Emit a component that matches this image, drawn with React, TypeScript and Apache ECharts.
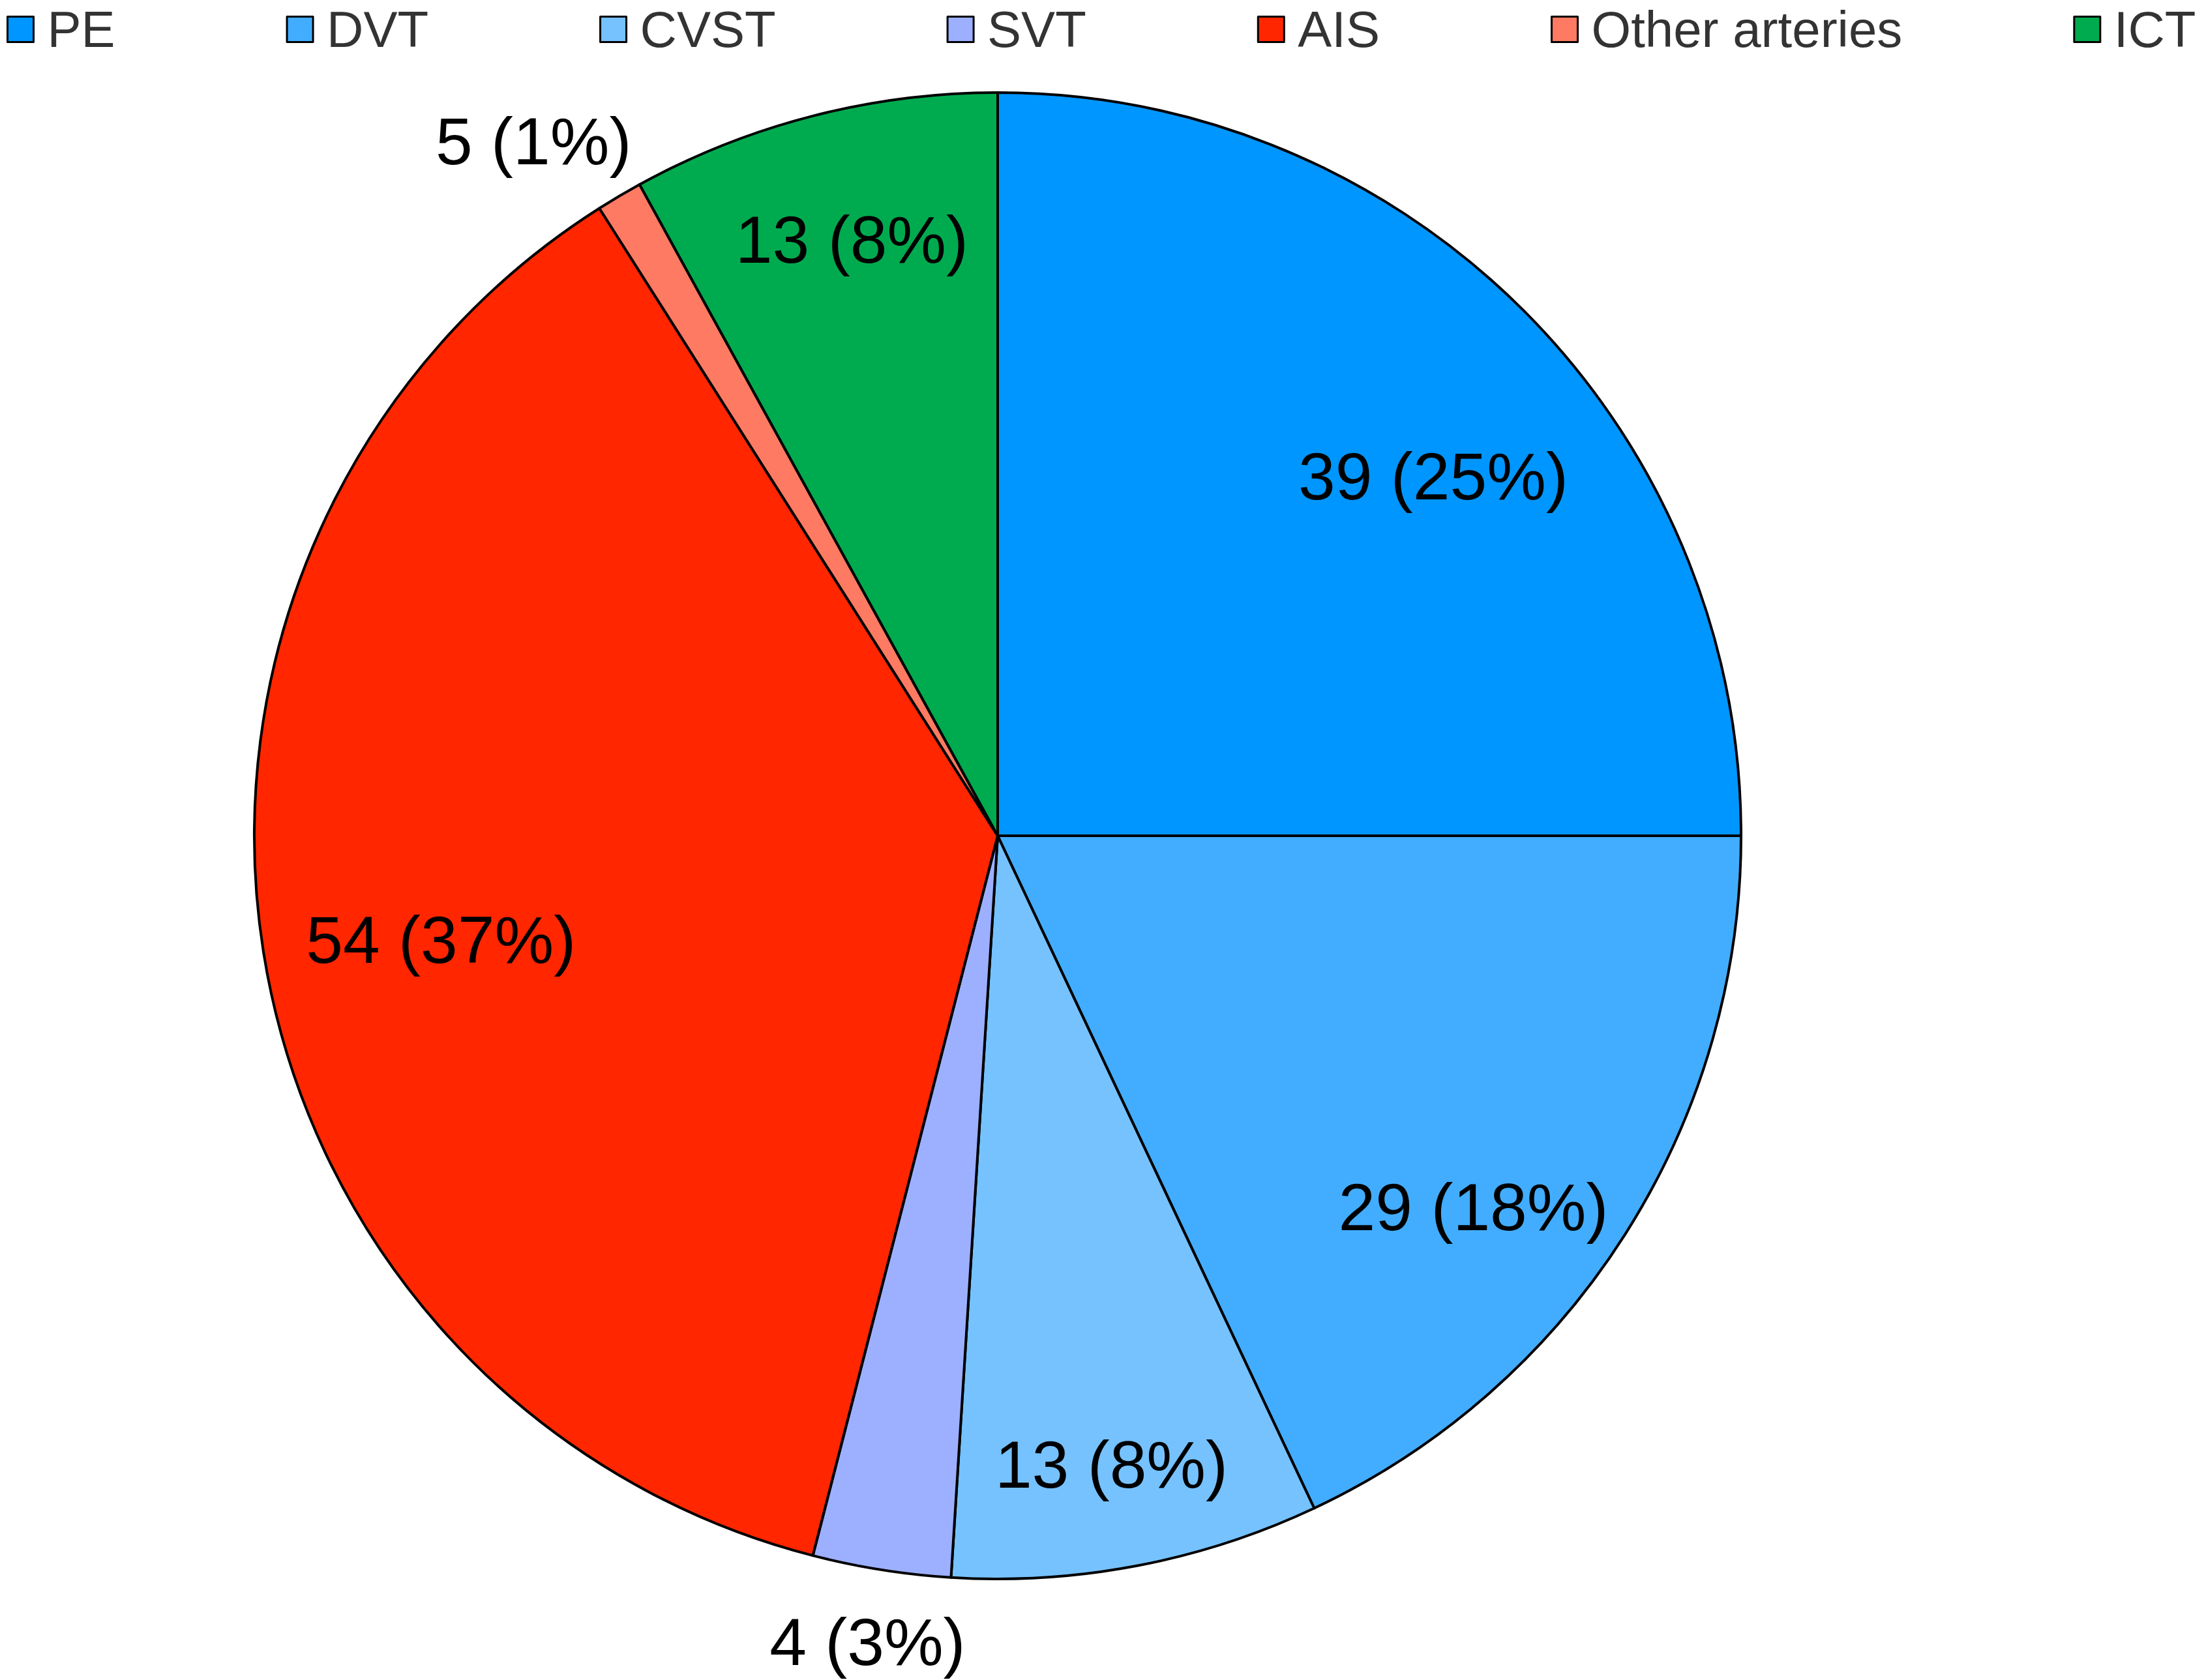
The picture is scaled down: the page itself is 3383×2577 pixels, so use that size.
import React, { useEffect, useRef } from "react";
import * as echarts from "echarts";

// ---- data ----
const categories: string[] = ["PE", "DVT", "CVST", "SVT", "AIS", "Other arteries", "ICT"];
const counts: number[] = [39, 29, 13, 4, 54, 5, 13];
const percents: number[] = [25, 18, 8, 3, 37, 1, 8];
const sliceColors: string[] = ["#0096FF", "#42ADFF", "#76C2FF", "#9DAFFF", "#FF2600", "#FF7A62", "#00AB4F"];
const labelOutside: boolean[] = [false, false, false, true, false, true, false];

// ---- label fine-tuning (px) ----
const labelNudges: number[][] = [[21, 96], [-43, 80], [3, 66], [-3, -5], [50, 17], [-72, 17], [4, -28]];

const FONT = "'Liberation Sans', Arial, Helvetica, sans-serif";
const W = 3383;
const H = 2577;
const CENTER = [1530, 1282];
const R = 1140;

export default function App() {
  const ref = useRef<HTMLDivElement>(null);

  useEffect(() => {
    document.body.style.margin = "0";
    if (!ref.current) return;
    const chart = echarts.init(ref.current, null, { renderer: "svg" });

    const labelText = (p: any) => `${counts[p.dataIndex]} (${percents[p.dataIndex]}%)`;
    const nudge = (p: any) => ({ dx: labelNudges[p.dataIndex][0], dy: labelNudges[p.dataIndex][1] });

    const overlay = (name: string, radius: number[], outside: boolean) => ({
      type: "pie",
      name,
      center: CENTER,
      radius,
      startAngle: 90,
      clockwise: true,
      silent: true,
      avoidLabelOverlap: false,
      emphasis: { disabled: true },
      itemStyle: { color: "rgba(0,0,0,0)", borderWidth: 0 },
      labelLine: { show: false },
      label: {
        show: true,
        position: "inside",
        color: "#000",
        fontSize: 102,
        fontFamily: FONT,
        textBorderWidth: 0,
        formatter: labelText,
      },
      labelLayout: nudge,
      data: categories.map((c, i) => ({
        name: c,
        value: percents[i],
        label: { show: labelOutside[i] === outside },
      })),
    });

    chart.setOption({
      animation: false,
      backgroundColor: "#ffffff",
      textStyle: { fontFamily: FONT },
      legend: {
        data: categories,
        orient: "horizontal",
        left: 10,
        top: 6,
        padding: 0,
        itemWidth: 40,
        itemHeight: 39,
        itemGap: 262,
        icon: "rect",
        itemStyle: { borderColor: "#000", borderWidth: 3 },
        textStyle: { fontSize: 78, color: "#333", fontFamily: FONT, padding: [0, 0, 0, 16] },
        selectedMode: false,
      },
      series: [
        {
          type: "pie",
          name: "main",
          center: CENTER,
          radius: R,
          startAngle: 90,
          clockwise: true,
          avoidLabelOverlap: false,
          emphasis: { disabled: true },
          label: { show: false },
          labelLine: { show: false },
          itemStyle: { borderColor: "#000", borderWidth: 4 },
          data: categories.map((c, i) => ({
            name: c,
            value: percents[i],
            itemStyle: { color: sliceColors[i] },
          })),
        },
        overlay("inner-labels", [R * 0.6, R], false),
        overlay("outer-labels", [R, R * 1.2], true),
      ],
    });

    return () => chart.dispose();
  }, []);

  return <div ref={ref} style={{ width: W, height: H }} />;
}
